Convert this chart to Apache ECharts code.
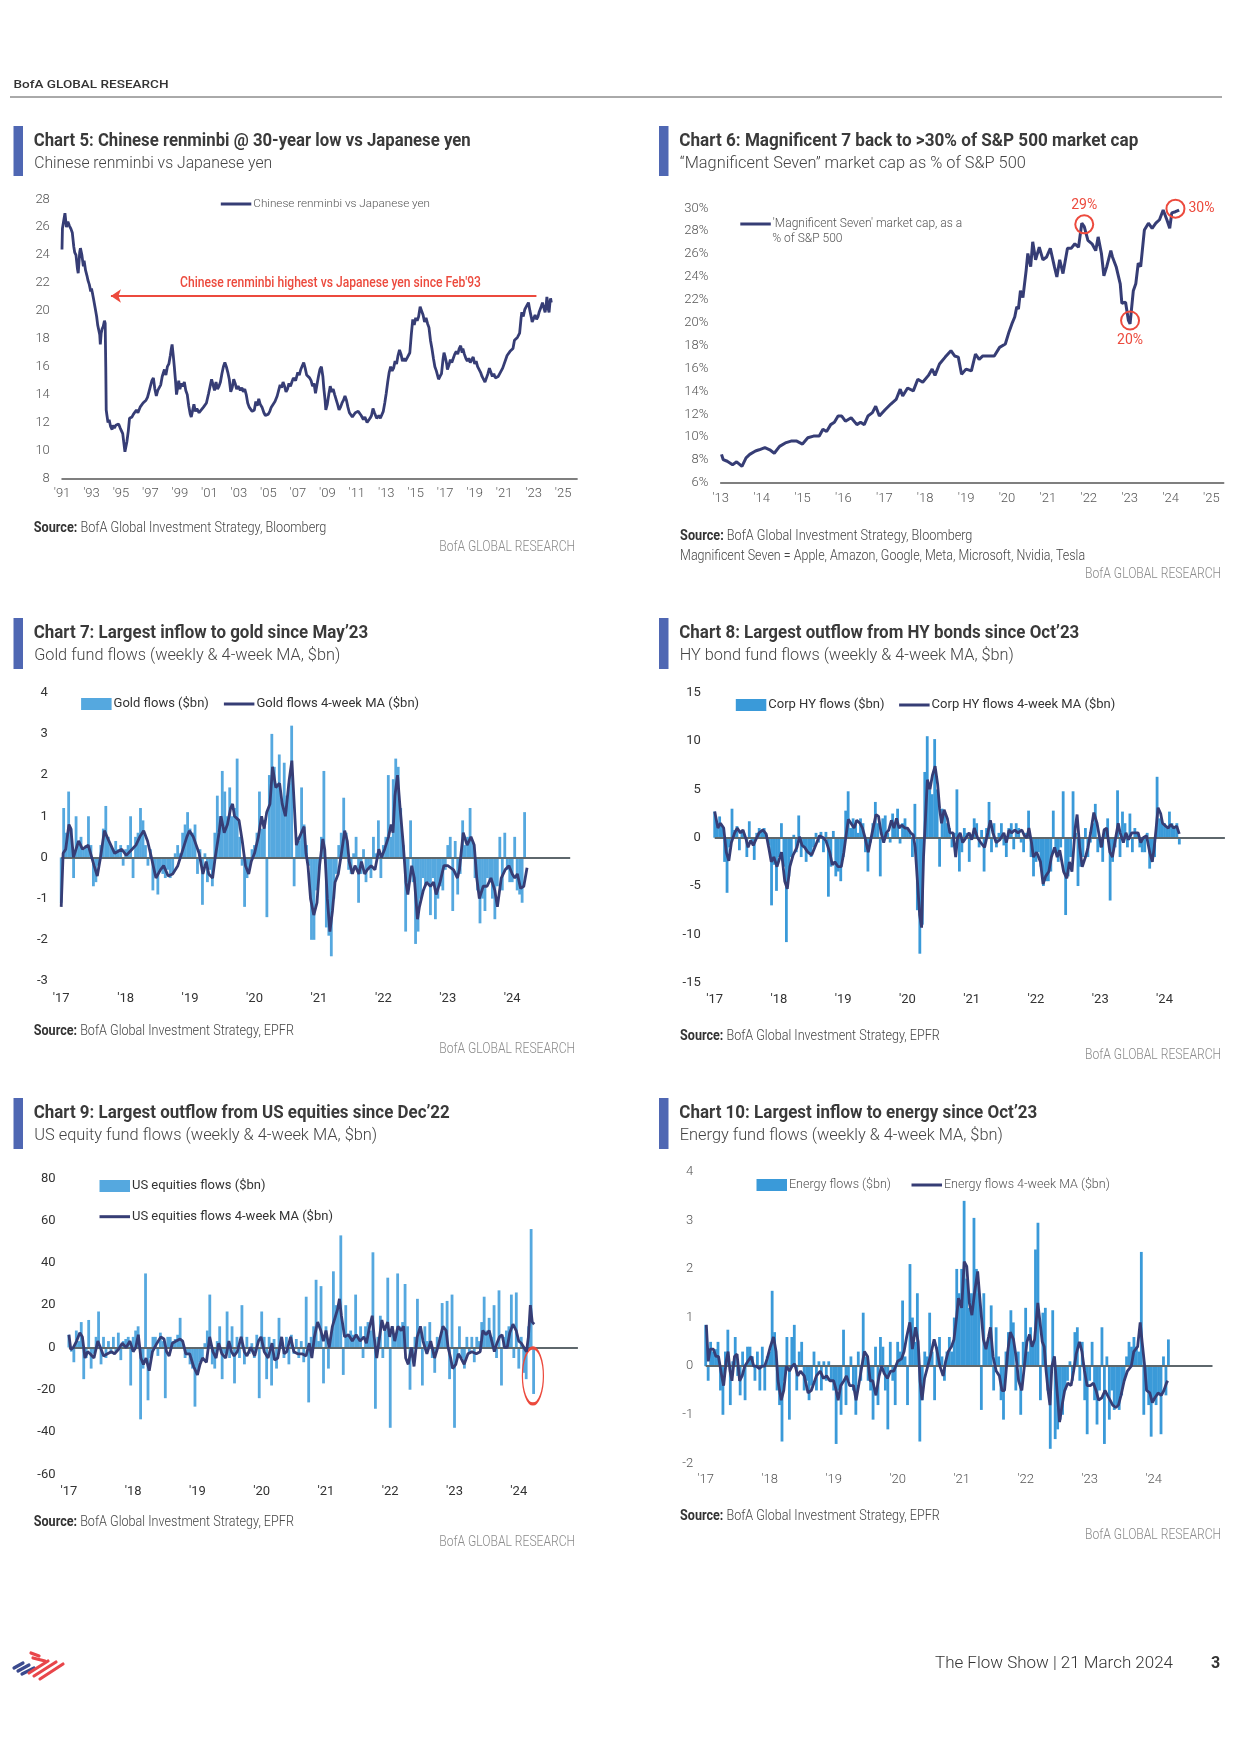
<!DOCTYPE html>
<html><head><meta charset="utf-8">
<script src="https://cdn.jsdelivr.net/npm/echarts@6/dist/echarts.min.js"></script>
<style>html,body{margin:0;padding:0;background:#fff}#c{width:1240px;height:1754px}</style>
</head><body><div id="c"></div>
<script>
// ---------------- DATA ----------------
// Chart 5: CNY vs JPY [decimal year, value]
const cnyJpy = [[1991.00,24.4],[1991.03,25.9],[1991.10,25.8],[1991.2,27.0],[1991.3,26.0],[1991.4,26.4],[1991.5,26.1],[1991.6,25.9],[1991.7,25.6],[1991.8,24.6],[1991.86,24.2],[1991.95,24.0],[1992.05,23.0],[1992.1,22.7],[1992.2,24.2],[1992.25,24.5],[1992.35,24.0],[1992.45,23.2],[1992.5,23.6],[1992.6,22.9],[1992.7,22.5],[1992.76,22.2],[1992.85,21.9],[1992.95,21.4],[1993.0,21.6],[1993.08,21.2],[1993.15,20.8],[1993.25,20.2],[1993.35,19.6],[1993.42,19.0],[1993.5,18.6],[1993.56,18.3],[1993.6,17.6],[1993.66,18.4],[1993.72,18.7],[1993.8,18.9],[1993.88,19.3],[1993.93,19.1],[1993.97,16.0],[1994.0,12.9],[1994.05,12.5],[1994.12,12.0],[1994.2,12.2],[1994.3,11.7],[1994.4,11.5],[1994.45,11.8],[1994.55,11.6],[1994.65,11.8],[1994.75,11.7],[1994.84,11.9],[1994.95,11.6],[1995.05,11.7],[1995.12,11.2],[1995.2,10.5],[1995.27,9.9],[1995.32,10.0],[1995.4,10.6],[1995.5,11.4],[1995.58,12.3],[1995.65,12.2],[1995.75,12.4],[1995.85,12.6],[1995.95,12.6],[1996.05,12.9],[1996.15,12.7],[1996.3,13.1],[1996.4,13.0],[1996.5,13.4],[1996.6,13.3],[1996.7,13.6],[1996.8,13.8],[1996.9,14.2],[1997.0,14.6],[1997.1,15.0],[1997.2,15.2],[1997.3,14.4],[1997.4,13.9],[1997.5,14.3],[1997.6,14.5],[1997.7,14.7],[1997.8,15.3],[1997.95,15.8],[1998.05,15.4],[1998.15,16.0],[1998.25,16.2],[1998.35,16.8],[1998.42,17.3],[1998.47,17.6],[1998.55,16.8],[1998.62,16.0],[1998.7,15.0],[1998.77,14.0],[1998.85,14.5],[1998.92,15.0],[1999.0,14.4],[1999.1,14.8],[1999.2,14.6],[1999.3,14.9],[1999.4,14.3],[1999.5,14.0],[1999.6,13.2],[1999.7,12.6],[1999.77,12.4],[1999.85,12.8],[1999.95,13.3],[2000.05,12.8],[2000.15,13.0],[2000.3,12.7],[2000.45,12.9],[2000.6,13.1],[2000.7,13.2],[2000.8,13.4],[2000.95,14.1],[2001.05,14.6],[2001.15,15.1],[2001.25,14.7],[2001.35,14.3],[2001.45,14.9],[2001.55,14.4],[2001.65,14.6],[2001.75,14.9],[2001.85,15.5],[2001.95,16.0],[2002.05,16.3],[2002.15,16.0],[2002.25,15.6],[2002.35,15.1],[2002.45,14.2],[2002.55,14.5],[2002.65,15.1],[2002.75,14.8],[2002.85,14.4],[2002.95,14.6],[2003.1,14.3],[2003.2,14.5],[2003.3,14.2],[2003.4,14.4],[2003.5,14.0],[2003.6,13.4],[2003.7,13.1],[2003.8,13.0],[2003.9,12.8],[2004.05,12.9],[2004.15,13.5],[2004.25,13.2],[2004.35,13.7],[2004.45,13.3],[2004.57,13.1],[2004.7,12.7],[2004.8,12.5],[2004.9,12.4],[2005.0,12.6],[2005.1,12.8],[2005.2,13.1],[2005.3,13.0],[2005.45,13.5],[2005.6,13.9],[2005.7,14.3],[2005.8,14.7],[2005.9,14.5],[2006.0,14.9],[2006.1,14.6],[2006.2,14.2],[2006.3,14.4],[2006.4,14.8],[2006.5,14.6],[2006.6,14.9],[2006.7,15.2],[2006.85,15.0],[2007.0,15.6],[2007.1,15.4],[2007.2,15.8],[2007.3,15.9],[2007.4,16.3],[2007.5,15.9],[2007.6,15.4],[2007.7,15.5],[2007.8,15.2],[2007.9,15.0],[2008.0,14.6],[2008.1,14.8],[2008.2,14.1],[2008.3,14.7],[2008.4,15.3],[2008.5,15.8],[2008.6,16.0],[2008.7,15.3],[2008.77,14.4],[2008.85,13.6],[2008.9,12.9],[2009.0,13.3],[2009.1,14.0],[2009.2,14.6],[2009.3,14.2],[2009.4,14.4],[2009.5,14.0],[2009.6,13.9],[2009.7,13.3],[2009.8,12.9],[2009.9,13.1],[2010.0,13.4],[2010.1,13.6],[2010.2,13.9],[2010.3,13.6],[2010.4,13.1],[2010.5,12.7],[2010.6,12.8],[2010.7,12.4],[2010.8,12.5],[2010.9,12.7],[2011.0,12.6],[2011.1,12.8],[2011.2,12.9],[2011.3,12.5],[2011.45,12.2],[2011.55,12.4],[2011.7,12.0],[2011.8,12.1],[2011.9,12.3],[2012.0,12.5],[2012.1,13.0],[2012.2,12.7],[2012.35,12.3],[2012.5,12.5],[2012.6,12.3],[2012.7,12.4],[2012.8,12.8],[2012.9,13.4],[2013.0,14.1],[2013.1,14.9],[2013.2,15.6],[2013.3,16.0],[2013.4,15.7],[2013.5,15.9],[2013.6,16.4],[2013.7,16.2],[2013.8,16.8],[2013.9,17.2],[2014.0,16.9],[2014.1,16.4],[2014.2,16.6],[2014.3,16.4],[2014.4,16.6],[2014.5,16.5],[2014.6,17.0],[2014.7,18.3],[2014.8,19.4],[2014.9,19.0],[2015.0,19.5],[2015.1,19.3],[2015.2,19.6],[2015.3,20.3],[2015.4,20.0],[2015.5,19.7],[2015.6,19.2],[2015.7,19.5],[2015.8,19.1],[2015.9,18.8],[2016.0,17.9],[2016.1,17.3],[2016.2,16.6],[2016.3,16.0],[2016.4,15.7],[2016.5,15.3],[2016.55,15.1],[2016.65,15.3],[2016.75,15.5],[2016.85,16.5],[2016.92,17.0],[2017.0,16.7],[2017.1,16.2],[2017.15,15.8],[2017.25,16.1],[2017.35,16.5],[2017.45,16.3],[2017.55,16.6],[2017.65,16.9],[2017.75,17.1],[2017.85,16.9],[2017.95,17.3],[2018.05,17.5],[2018.15,17.0],[2018.2,17.3],[2018.3,16.9],[2018.4,16.6],[2018.5,16.4],[2018.6,16.6],[2018.7,16.3],[2018.8,16.5],[2018.9,16.7],[2019.0,16.2],[2019.1,16.4],[2019.2,16.0],[2019.3,16.1],[2019.4,15.6],[2019.5,15.3],[2019.6,15.2],[2019.7,14.9],[2019.8,15.2],[2019.9,15.5],[2020.0,15.9],[2020.1,15.6],[2020.2,15.3],[2020.3,15.5],[2020.4,15.2],[2020.5,15.1],[2020.6,15.3],[2020.7,15.5],[2020.8,15.6],[2020.9,15.9],[2021.0,16.0],[2021.1,16.5],[2021.2,16.8],[2021.3,16.9],[2021.4,17.1],[2021.5,17.0],[2021.6,17.3],[2021.7,17.9],[2021.8,18.0],[2021.9,18.1],[2021.95,18.2],[2022.05,18.4],[2022.15,19.5],[2022.2,19.9],[2022.3,19.6],[2022.4,20.1],[2022.5,20.3],[2022.6,20.4],[2022.65,20.6],[2022.75,20.0],[2022.85,19.5],[2022.9,19.2],[2023.0,19.3],[2023.1,19.7],[2023.2,19.4],[2023.3,19.6],[2023.37,19.9],[2023.45,20.0],[2023.55,20.4],[2023.6,20.6],[2023.7,20.2],[2023.78,19.9],[2023.85,20.4],[2023.9,21.0],[2023.95,20.6],[2024.0,20.1],[2024.05,19.9],[2024.1,20.5],[2024.15,20.9],[2024.2,20.6]];
const cnyArrow = [[2023.19,21.07],[1994.32,21.07]];

// Chart 6: Magnificent 7 share of S&P 500 (%)
const mag7Share = [[2013.02,8.5],[2013.06,8.05],[2013.16,7.9],[2013.29,7.6],[2013.39,7.85],[2013.52,7.46],[2013.62,8.2],[2013.71,8.5],[2013.85,8.8],[2013.94,8.9],[2014.08,9.1],[2014.20,8.9],[2014.31,8.6],[2014.44,9.2],[2014.58,9.5],[2014.72,9.66],[2014.86,9.66],[2015.00,9.4],[2015.13,9.95],[2015.27,10.1],[2015.41,10.1],[2015.50,10.7],[2015.59,10.5],[2015.69,11.1],[2015.78,11.3],[2015.87,11.85],[2015.96,11.85],[2016.05,11.4],[2016.19,11.7],[2016.33,11.1],[2016.42,11.3],[2016.51,11.1],[2016.60,11.85],[2016.71,12.15],[2016.79,12.7],[2016.88,11.85],[2017.02,12.4],[2017.16,12.9],[2017.29,13.3],[2017.39,14.2],[2017.45,13.6],[2017.57,14.3],[2017.71,14.05],[2017.82,15.07],[2017.94,14.8],[2018.08,15.4],[2018.17,15.95],[2018.24,15.4],[2018.35,16.4],[2018.49,17.0],[2018.63,17.56],[2018.72,17.1],[2018.81,17.0],[2018.89,15.5],[2019.00,15.95],[2019.13,15.8],[2019.23,17.27],[2019.32,16.8],[2019.41,17.1],[2019.55,17.1],[2019.69,17.1],[2019.82,17.85],[2019.96,18.14],[2020.05,19.2],[2020.12,19.9],[2020.19,20.5],[2020.24,21.4],[2020.28,21.2],[2020.33,22.8],[2020.39,22.2],[2020.47,24.6],[2020.51,26.05],[2020.58,24.9],[2020.63,27.07],[2020.70,25.5],[2020.79,26.6],[2020.88,25.5],[2020.97,25.75],[2021.06,26.5],[2021.16,24.9],[2021.22,24.0],[2021.29,25.5],[2021.37,24.3],[2021.48,26.5],[2021.57,26.5],[2021.66,26.9],[2021.75,26.6],[2021.83,28.7],[2021.89,28.4],[2021.98,27.2],[2022.08,26.9],[2022.17,26.3],[2022.23,27.5],[2022.31,26.05],[2022.37,24.1],[2022.44,24.9],[2022.54,26.3],[2022.58,25.75],[2022.67,24.9],[2022.77,23.4],[2022.81,21.7],[2022.90,21.8],[2022.97,20.2],[2023.01,19.9],[2023.09,22.8],[2023.15,23.4],[2023.21,25.2],[2023.27,24.9],[2023.36,28.1],[2023.46,28.7],[2023.55,28.25],[2023.64,28.7],[2023.73,29.0],[2023.82,29.85],[2023.91,29.0],[2023.98,28.25],[2024.03,29.6],[2024.12,29.7],[2024.21,29.85]];
const mag7Marks = [[2021.89,28.6,'29%'],[2023.01,20.2,'20%'],[2024.12,29.97,'30%']];

// Flow charts: fortnightly samples from Jan 2017 ($bn)
const flowStart = 2017, flowStep = 1/26;
const goldFlows = [
-1.1,1.2,0.6,1.6,0.7,-0.5,1.0,0.4,0.5,0.2,0.3,1.0,0.3,-0.7,-0.6,-0.2,0.3,0.7,1.25,0.5,0.3,0.2,0.4,0.2,0.3,-0.2,
0.2,0.3,1.0,-0.5,0.5,0.6,1.2,0.9,0.3,-0.2,0.2,-0.8,-0.4,-0.9,-0.3,-0.4,-0.5,-0.3,-0.5,-0.4,0.1,0.3,0.1,0.6,0.8,1.1,
0.7,0.6,0.8,-0.4,0.2,-1.15,0.1,-0.6,-0.3,-0.7,0.6,1.5,1.0,2.1,1.6,1.0,1.7,1.0,1.2,2.4,0.5,-0.2,-1.2,-0.5,-0.3,0.2,
0.3,0.6,1.6,0.7,0.9,-1.45,2.0,3.0,2.2,1.8,2.5,1.4,2.3,1.5,1.8,3.2,-0.7,0.5,0.4,1.7,0.8,0.3,-0.2,-2.0,-2.0,-0.8,
-0.3,0.5,2.1,-1.7,-1.9,-2.4,-1.0,-0.4,0.3,0.6,1.45,0.6,-0.3,-0.4,0.1,0.5,-1.1,-0.4,0.2,-0.6,-0.3,-0.5,0.5,0.1,0.9,-0.5,
0.3,0.5,2.0,0.5,1.9,2.4,2.2,1.2,0.3,-1.8,-0.8,0.9,-0.6,-2.1,-1.8,-1.0,-0.5,-0.7,-0.6,-1.4,-0.5,-1.5,-1.0,-0.7,-0.8,-0.3,
0.3,0.5,-1.3,0.4,-0.9,-0.4,0.9,0.3,0.5,1.2,0.4,-0.5,-0.8,-1.6,-1.0,-1.3,-0.5,-0.6,-1.0,-1.5,-0.7,0.5,-0.8,0.6,-0.3,-0.6,
-0.6,0.5,-0.8,-0.9,-1.1,1.1];
const goldMA = [[2017.00,-1.2],[2017.03,0.1],[2017.07,0.2],[2017.12,0.8],[2017.15,0.7],[2017.19,0.0],[2017.27,0.4],[2017.33,0.2],[2017.42,0.3],[2017.51,-0.2],[2017.56,-0.45],[2017.61,0.0],[2017.67,0.65],[2017.74,0.4],[2017.83,0.1],[2017.94,0.2],[2018.01,0.05],[2018.10,0.2],[2018.16,0.3],[2018.22,0.5],[2018.28,0.65],[2018.34,0.4],[2018.40,0.0],[2018.47,-0.5],[2018.54,-0.3],[2018.59,-0.2],[2018.66,-0.45],[2018.73,-0.4],[2018.81,-0.2],[2018.87,0.1],[2018.95,0.5],[2018.99,0.65],[2019.05,0.5],[2019.14,0.1],[2019.20,-0.4],[2019.25,-0.1],[2019.29,-0.4],[2019.35,-0.5],[2019.39,0.0],[2019.45,0.6],[2019.48,1.0],[2019.53,0.6],[2019.58,0.8],[2019.63,1.2],[2019.66,1.3],[2019.69,1.0],[2019.76,0.9],[2019.81,0.4],[2019.86,-0.2],[2019.91,-0.4],[2019.95,-0.1],[2020.00,0.1],[2020.06,0.5],[2020.11,1.0],[2020.15,0.7],[2020.19,1.1],[2020.24,1.3],[2020.28,2.2],[2020.33,1.7],[2020.39,1.8],[2020.43,1.3],[2020.48,1.0],[2020.54,1.9],[2020.58,2.35],[2020.62,1.2],[2020.65,0.3],[2020.70,0.5],[2020.77,0.75],[2020.80,0.1],[2020.83,-0.2],[2020.87,-1.0],[2020.92,-1.4],[2020.97,-1.1],[2021.01,-0.2],[2021.06,0.45],[2021.09,0.2],[2021.13,-1.0],[2021.17,-1.8],[2021.21,-1.3],[2021.25,-0.6],[2021.30,-0.4],[2021.34,0.0],[2021.40,0.65],[2021.44,0.4],[2021.47,-0.1],[2021.52,-0.4],[2021.56,-0.2],[2021.62,-0.4],[2021.66,-0.1],[2021.71,-0.4],[2021.75,-0.3],[2021.81,-0.2],[2021.87,-0.3],[2021.93,0.2],[2021.97,0.0],[2022.02,0.2],[2022.08,0.5],[2022.12,0.8],[2022.15,0.6],[2022.18,1.5],[2022.22,2.0],[2022.26,1.2],[2022.31,0.3],[2022.35,-0.6],[2022.38,-0.9],[2022.44,-0.2],[2022.48,-0.5],[2022.53,-1.5],[2022.56,-1.2],[2022.62,-0.8],[2022.67,-0.6],[2022.73,-0.7],[2022.78,-0.6],[2022.82,-0.9],[2022.88,-0.6],[2022.94,-0.2],[2023.00,-0.2],[2023.09,-0.3],[2023.15,-0.5],[2023.18,-0.3],[2023.24,0.6],[2023.30,0.3],[2023.36,0.5],[2023.41,0.3],[2023.45,-0.5],[2023.49,-1.0],[2023.55,-0.7],[2023.61,-0.7],[2023.67,-0.5],[2023.73,-0.8],[2023.77,-1.2],[2023.83,-0.5],[2023.89,-0.3],[2023.95,-0.2],[2024.00,-0.4],[2024.04,-0.5],[2024.08,-0.4],[2024.13,-0.75],[2024.18,-0.7],[2024.23,-0.25]];

const hyFlows = [
2.7,1.5,2.2,1.2,-2.5,-5.7,-1.0,3.0,0.8,1.2,-1.3,0.8,0.4,-2.0,1.7,-0.5,-2.3,0.5,1.0,0.6,1.0,0.3,-0.8,-7.0,-2.8,-5.5,
-2.0,1.5,-3.0,-10.8,-4.0,-2.0,0.3,-1.5,2.3,-2.0,-1.0,-2.5,-1.5,-2.0,-1.0,0.5,-0.5,0.6,-1.5,0.6,-6.1,-3.0,0.7,-4.0,-3.5,-4.5,
-2.0,2.8,4.8,1.0,2.0,1.5,0.5,2.0,1.5,-1.5,-3.5,-0.5,1.5,3.7,1.5,-4.0,2.0,2.3,0.5,-0.5,2.5,1.5,3.0,-0.6,1.5,2.0,
1.0,0.5,-2.0,3.5,-7.5,-12.0,-9.0,6.8,10.5,5.0,4.5,10.2,5.0,-3.0,3.0,2.7,1.5,1.0,-1.0,0.5,5.0,-3.5,-1.5,1.0,0.5,-2.5,
0.3,2.0,1.5,-1.0,0.8,-3.5,1.0,3.7,-1.5,1.5,-1.0,0.5,1.5,-0.8,-2.0,1.0,1.5,-1.2,1.5,1.0,-0.5,-1.5,0.5,2.8,-2.0,-4.0,
-2.5,-1.5,-3.0,-5.0,-4.5,-4.5,-3.5,2.8,-1.5,-2.5,-1.0,4.8,-8.0,-4.0,-2.0,4.8,0.5,-5.0,-3.0,-2.0,1.0,-2.0,-0.5,1.5,3.5,-1.5,
-1.0,-2.5,1.0,2.0,-6.5,-2.5,-1.0,4.9,-2.0,2.7,1.5,-1.0,2.5,-1.5,1.0,0.5,-1.0,-1.5,-1.5,0.5,-3.2,-2.5,-2.0,6.3,2.0,1.5,
1.5,1.2,2.7,1.5,1.2,1.5,-0.7];
const hyMA = [[2017.00,2.7],[2017.05,1.0],[2017.09,1.5],[2017.14,1.0],[2017.18,-1.5],[2017.22,-2.4],[2017.26,-0.5],[2017.31,0.5],[2017.35,1.0],[2017.40,0.5],[2017.44,0.8],[2017.49,-0.2],[2017.52,-1.0],[2017.56,-0.3],[2017.60,-0.8],[2017.64,-0.2],[2017.69,0.5],[2017.75,0.8],[2017.80,0.4],[2017.84,-1.0],[2017.88,-2.5],[2017.92,-2.0],[2017.97,-3.0],[2018.04,-1.5],[2018.09,-4.5],[2018.13,-5.3],[2018.17,-3.0],[2018.22,-1.8],[2018.28,-1.0],[2018.32,0.1],[2018.36,-0.8],[2018.40,-1.0],[2018.45,-1.5],[2018.51,-1.8],[2018.57,-0.8],[2018.63,0.2],[2018.69,0.0],[2018.73,-0.3],[2018.79,-1.5],[2018.83,-2.8],[2018.87,-2.5],[2018.92,-3.0],[2018.97,-3.0],[2019.01,-1.5],[2019.05,0.5],[2019.08,1.9],[2019.12,1.5],[2019.17,1.0],[2019.21,1.8],[2019.26,1.5],[2019.30,1.0],[2019.34,0.0],[2019.39,-1.5],[2019.45,0.5],[2019.51,2.4],[2019.55,2.2],[2019.59,0.5],[2019.63,-0.5],[2019.67,0.5],[2019.71,0.8],[2019.75,1.8],[2019.79,1.0],[2019.83,2.0],[2019.87,1.0],[2019.91,1.3],[2019.96,1.0],[2020.00,1.0],[2020.05,0.5],[2020.09,0.3],[2020.12,-1.0],[2020.15,-4.0],[2020.19,-8.0],[2020.22,-9.3],[2020.25,-2.0],[2020.28,2.0],[2020.31,6.0],[2020.35,5.0],[2020.39,6.5],[2020.43,7.4],[2020.47,5.5],[2020.50,3.0],[2020.53,1.5],[2020.57,2.9],[2020.62,2.0],[2020.66,0.5],[2020.71,0.5],[2020.75,-2.0],[2020.78,0.0],[2020.82,0.5],[2020.86,-0.5],[2020.91,0.0],[2020.96,0.5],[2021.00,-0.2],[2021.04,1.0],[2021.09,0.0],[2021.14,-0.5],[2021.20,-1.0],[2021.25,0.5],[2021.29,1.8],[2021.33,0.5],[2021.38,-0.5],[2021.44,-0.2],[2021.50,0.5],[2021.54,-0.5],[2021.58,0.8],[2021.62,0.5],[2021.67,0.8],[2021.72,0.5],[2021.78,0.8],[2021.82,0.2],[2021.86,0.0],[2021.89,1.0],[2021.93,-0.5],[2021.96,-2.0],[2022.01,-1.5],[2022.07,-2.5],[2022.11,-4.8],[2022.15,-4.0],[2022.20,-3.5],[2022.24,-2.0],[2022.29,-1.0],[2022.33,-2.0],[2022.37,-1.3],[2022.43,-3.5],[2022.48,-4.2],[2022.52,-2.5],[2022.56,-3.5],[2022.61,1.0],[2022.64,2.4],[2022.68,-1.0],[2022.72,-3.0],[2022.77,-2.0],[2022.81,-1.0],[2022.85,0.5],[2022.90,2.6],[2022.95,1.5],[2022.99,0.0],[2023.02,-1.0],[2023.06,0.8],[2023.10,1.0],[2023.15,-1.5],[2023.19,-2.0],[2023.24,0.0],[2023.28,1.5],[2023.31,0.5],[2023.36,-0.5],[2023.40,0.5],[2023.44,-0.2],[2023.49,0.5],[2023.54,0.5],[2023.59,0.5],[2023.63,-0.5],[2023.67,0.0],[2023.72,0.2],[2023.77,-1.5],[2023.81,-2.5],[2023.84,-1.0],[2023.87,1.0],[2023.90,3.1],[2023.94,2.5],[2023.97,1.5],[2024.02,1.2],[2024.06,1.0],[2024.10,1.4],[2024.14,1.0],[2024.19,1.2],[2024.23,0.4]];

const usEqFlows = [
6,-2,-7,8,3,12,-15,-5,13,-10,-3,5,17,-8,5,-5,3,-3,5,-2,7,-6,3,4,5,-18,
5,8,10,-34,-10,35,-25,-5,5,5,-4,7,3,-24,5,5,3,4,6,14,3,-5,-3,-8,-10,-28,
-13,-7,-5,2,8,25,-8,-10,3,10,-15,-3,17,-5,10,-17,5,-5,20,-8,5,-3,2,-5,6,-24,
17,5,-15,5,-18,4,-10,14,3,-5,5,-8,6,-3,4,-5,3,-7,24,-26,5,10,32,3,29,-17,
10,-10,5,36,20,18,53,-13,20,5,8,6,25,5,10,-5,10,12,8,45,-29,5,15,-5,8,33,
-38,10,5,35,10,12,30,10,-20,-5,5,23,8,-18,10,3,12,-5,-12,5,3,21,8,22,-15,25,
-38,-5,10,-5,-10,5,-3,5,-7,5,3,12,24,8,14,5,20,-5,27,-18,5,8,10,25,-5,26,
-10,5,-12,-15,10,56,-22];
const usEqMA = [[2017.00,6],[2017.03,-1],[2017.07,0],[2017.12,3],[2017.17,7],[2017.21,5],[2017.25,-5],[2017.29,-2],[2017.33,-3],[2017.39,-5],[2017.45,3],[2017.49,0],[2017.54,-4],[2017.60,-3],[2017.66,-2],[2017.71,-3],[2017.77,-1],[2017.83,2],[2017.89,0],[2017.95,3],[2018.00,-2],[2018.04,0],[2018.08,6],[2018.12,-5],[2018.16,-8],[2018.20,-5],[2018.25,-11],[2018.30,-2],[2018.37,2],[2018.43,5],[2018.48,4],[2018.52,-2],[2018.56,-4],[2018.61,2],[2018.67,3],[2018.73,4],[2018.77,3],[2018.82,-3],[2018.88,-3],[2018.94,-9],[2019.00,-13],[2019.04,-8],[2019.08,-5],[2019.14,-7],[2019.19,5],[2019.24,-2],[2019.29,-5],[2019.33,2],[2019.38,-3],[2019.44,-5],[2019.49,3],[2019.53,-2],[2019.57,-4],[2019.62,-2],[2019.68,5],[2019.73,-2],[2019.77,-4],[2019.83,0],[2019.89,-4],[2019.95,3],[2019.99,5],[2020.04,-2],[2020.10,-5],[2020.16,2],[2020.20,-6],[2020.25,-5],[2020.31,5],[2020.35,-3],[2020.39,-2],[2020.45,5],[2020.50,-2],[2020.56,-3],[2020.63,-3],[2020.69,-4],[2020.74,2],[2020.78,-5],[2020.82,5],[2020.87,12],[2020.92,8],[2020.96,3],[2021.00,8],[2021.05,0],[2021.10,10],[2021.15,15],[2021.18,18],[2021.21,23],[2021.24,15],[2021.29,5],[2021.35,6],[2021.41,3],[2021.47,6],[2021.53,3],[2021.59,5],[2021.63,2],[2021.68,10],[2021.72,15],[2021.75,5],[2021.79,-5],[2021.82,2],[2021.87,13],[2021.91,8],[2021.96,12],[2021.99,5],[2022.03,10],[2022.07,3],[2022.12,10],[2022.17,8],[2022.21,10],[2022.24,-5],[2022.28,-8],[2022.33,0],[2022.37,-9],[2022.42,5],[2022.47,10],[2022.51,3],[2022.57,-3],[2022.63,3],[2022.69,-5],[2022.74,0],[2022.78,5],[2022.82,10],[2022.87,8],[2022.90,0],[2022.94,-5],[2022.97,-10],[2023.02,-8],[2023.06,-3],[2023.10,-5],[2023.15,-8],[2023.21,-3],[2023.27,-2],[2023.34,-3],[2023.40,-2],[2023.44,8],[2023.49,6],[2023.54,8],[2023.58,3],[2023.62,-2],[2023.66,2],[2023.70,5],[2023.74,6],[2023.78,0],[2023.82,0],[2023.86,7],[2023.91,11],[2023.96,8],[2024.00,3],[2024.04,2],[2024.08,0],[2024.12,-2],[2024.15,5],[2024.18,20],[2024.21,12],[2024.24,11]];
const usEqOutflowMark = [2024.22,-13.5];

const energyFlows = [
0.85,-0.3,0.5,0.3,0.35,0.5,-0.5,-1.0,0.3,0.75,-0.8,0.1,0.6,-0.2,-0.6,0.3,-0.7,0.4,0.4,0.2,-0.3,0.3,-0.5,0.4,-0.5,0.2,
0.3,1.55,0.7,-0.5,-0.8,-1.55,-0.3,0.6,-1.1,0.6,0.85,-0.5,0.3,0.5,-0.5,-0.3,-0.7,-0.4,0.3,-0.5,0.1,-0.5,0.1,-0.3,0.1,-0.3,
-0.5,-1.6,-0.5,-1.0,0.75,-0.8,-0.3,0.2,-0.5,-1.0,0.3,-0.3,1.1,0.2,-0.3,-0.5,-1.1,0.4,-0.8,0.6,0.4,-0.5,-1.3,0.5,-0.3,-0.8,
0.5,0.3,1.35,0.2,-0.8,2.1,1.0,0.5,1.5,-1.55,-0.7,0.3,0.2,1.1,0.3,-0.7,0.4,0.6,0.2,-0.3,0.3,0.6,0.3,1.0,2.0,1.5,
2.0,3.4,1.8,1.2,1.5,3.05,2.0,1.5,-0.9,1.5,0.5,0.6,1.25,-0.5,0.8,0.2,-0.7,-1.1,0.3,0.7,1.15,0.9,-0.5,0.3,-1.0,0.5,
1.2,0.3,0.8,0.5,2.4,2.95,-0.7,1.1,1.2,-0.5,-1.7,1.15,-1.5,-1.3,-1.1,-1.0,-0.5,-0.3,0.1,-0.3,0.7,0.8,-0.3,0.5,-0.7,-1.4,
-0.3,0.5,-0.7,-1.2,-0.5,0.8,-1.6,0.2,-1.1,-0.5,-0.9,-0.8,-0.9,-0.6,-0.3,0.2,0.5,0.4,0.6,0.4,0.3,2.35,-1.0,-0.5,-0.8,-1.45,
-0.7,-0.8,-0.6,-1.4,0.2,-0.6,0.55];
const energyMA = [[2017.01,0.85],[2017.04,0.1],[2017.07,0.35],[2017.12,0.35],[2017.16,0.2],[2017.20,0.2],[2017.25,-0.2],[2017.28,-0.4],[2017.32,0.1],[2017.35,0.3],[2017.38,-0.1],[2017.41,-0.3],[2017.45,0.2],[2017.49,0.25],[2017.53,-0.3],[2017.57,-0.2],[2017.61,0.0],[2017.66,0.1],[2017.71,0.2],[2017.75,0.0],[2017.79,0.0],[2017.84,-0.05],[2017.88,0.0],[2017.92,0.0],[2017.96,0.15],[2018.01,0.4],[2018.06,0.6],[2018.10,0.3],[2018.13,-0.3],[2018.18,-0.7],[2018.22,-0.5],[2018.26,0.0],[2018.31,-0.1],[2018.35,0.0],[2018.39,0.05],[2018.44,-0.2],[2018.48,-0.1],[2018.54,-0.2],[2018.60,-0.55],[2018.65,-0.5],[2018.69,-0.35],[2018.73,-0.2],[2018.79,-0.1],[2018.84,-0.25],[2018.89,-0.2],[2018.94,-0.3],[2019.00,-0.3],[2019.04,-0.5],[2019.07,-0.7],[2019.11,-0.4],[2019.16,-0.3],[2019.20,-0.2],[2019.25,-0.4],[2019.31,-0.4],[2019.35,-0.7],[2019.39,-0.4],[2019.44,0.0],[2019.48,0.3],[2019.53,0.2],[2019.57,-0.3],[2019.61,-0.3],[2019.66,-0.6],[2019.71,-0.2],[2019.75,0.0],[2019.79,-0.15],[2019.84,-0.25],[2019.89,-0.1],[2019.94,-0.1],[2020.00,0.1],[2020.06,0.15],[2020.10,0.3],[2020.14,0.6],[2020.19,0.9],[2020.23,0.35],[2020.28,0.8],[2020.32,0.5],[2020.35,-0.3],[2020.38,-0.7],[2020.42,-0.25],[2020.47,0.0],[2020.51,0.2],[2020.57,0.55],[2020.61,0.35],[2020.66,0.0],[2020.71,-0.2],[2020.75,0.1],[2020.79,0.3],[2020.84,0.4],[2020.88,0.55],[2020.92,1.0],[2020.95,1.4],[2021.00,1.2],[2021.04,2.15],[2021.08,2.05],[2021.12,1.3],[2021.16,1.05],[2021.20,1.5],[2021.25,1.95],[2021.29,1.3],[2021.34,0.55],[2021.38,0.35],[2021.42,0.6],[2021.45,0.8],[2021.49,0.2],[2021.54,-0.1],[2021.59,-0.2],[2021.63,-0.5],[2021.67,-0.5],[2021.72,0.3],[2021.76,0.7],[2021.81,0.55],[2021.85,0.2],[2021.89,-0.3],[2021.94,-0.5],[2021.98,0.0],[2022.02,0.5],[2022.06,0.65],[2022.10,0.4],[2022.14,0.55],[2022.19,1.3],[2022.22,1.3],[2022.26,0.5],[2022.29,0.4],[2022.32,-0.1],[2022.35,-0.5],[2022.38,-0.8],[2022.41,0.0],[2022.45,0.2],[2022.49,-0.5],[2022.53,-1.15],[2022.57,-0.8],[2022.61,-0.5],[2022.66,-0.35],[2022.71,-0.4],[2022.75,-0.1],[2022.79,0.25],[2022.84,0.5],[2022.88,0.3],[2022.92,-0.1],[2022.96,-0.4],[2023.01,-0.4],[2023.06,-0.35],[2023.10,-0.5],[2023.14,-0.7],[2023.19,-0.65],[2023.24,-0.5],[2023.28,-0.6],[2023.32,-0.7],[2023.36,-0.8],[2023.41,-0.85],[2023.45,-0.8],[2023.49,-0.6],[2023.54,-0.3],[2023.59,-0.1],[2023.65,0.0],[2023.69,0.3],[2023.75,0.4],[2023.79,0.9],[2023.82,0.5],[2023.86,0.0],[2023.89,-0.5],[2023.94,-0.55],[2023.98,-0.75],[2024.02,-0.65],[2024.07,-0.55],[2024.12,-0.6],[2024.16,-0.5],[2024.20,-0.35],[2024.22,-0.3]];

// ---------------- STYLE ----------------
const NAVY='#363D75', BAR_A='#55A8DF', BAR_B='#3A9AD9', RED='#EC4A3D', TBAR='#4F67B3', ZERO='#5E676C';
const SANS="Roboto,'Open Sans','Noto Sans',sans-serif";

const mctx=document.createElement('canvas').getContext('2d');
function measure(s,size,weight,fam){mctx.font=weight+' '+size+'px '+fam;return mctx.measureText(s).width;}
const G=[];
function txt(x,y,s,o){
  o=Object.assign({size:14,weight:'normal',color:'#333',fam:SANS,align:'left'},o);
  const m=measure(s,o.size,o.weight,o.fam); const sx=o.w?o.w/m:1;
  G.push({type:'text',x:x,y:y,scaleX:sx,silent:true,z:10,style:{text:s,x:0,y:0,fill:o.color,font:o.weight+' '+o.size+'px '+o.fam,
    align:o.align,verticalAlign:'middle',textAlign:o.align,textVerticalAlign:'middle'}});
  return m*sx;
}
function src(x,y,rest,w){
  const size=14.5; const bw=measure('Source:',size,'bold',SANS); const rw=measure(' '+rest,size,'300',SANS);
  const sx=w/(bw+rw);
  txt(x,y,'Source:',{size:size,weight:'bold',color:'#333',w:bw*sx});
  txt(x+bw*sx,y,' '+rest,{size:size,weight:'300',color:'#444',w:rw*sx});
}
function bofa(xr,y){txt(xr,y,'BofA GLOBAL RESEARCH',{size:15,weight:'300',color:'#8a8a8a',w:136,align:'right'});}
function tbar(x,y1,y2){G.push({type:'rect',shape:{x:x,y:y1,width:9.5,height:y2-y1},style:{fill:TBAR},silent:true});}
function head(x,y,title,tw,sub,sw){
  txt(x,y,title,{size:18.5,weight:'bold',color:'#3a3a3a',w:tw});
  txt(x+0.5,y+23,sub,{size:16.5,weight:'300',color:'#444',w:sw});
}

// Page header / footer
txt(13.5,85,'BofA GLOBAL RESEARCH',{size:11.5,weight:'500',color:'#333',w:155});
G.push({type:'line',shape:{x1:10,y1:97,x2:1222,y2:97},style:{stroke:'#555',lineWidth:1},silent:true});
txt(935,1664,'The Flow Show | 21 March 2024',{size:16,weight:'300',color:'#333',w:238});
txt(1211,1664,'3',{size:16,weight:'bold',color:'#333'});
[[[14,1668],[23,1663]],[[18,1671],[29,1665]],[[22,1674],[34,1668]]].forEach(p=>G.push({type:'line',shape:{x1:p[0][0],y1:p[0][1],x2:p[1][0],y2:p[1][1]},style:{stroke:'#3B4A8E',lineWidth:3.2,lineCap:'round'},silent:true}));
[[[31,1653],[39,1656]],[[33,1658],[45,1661]],[[29,1673],[48,1661]],[[34,1676],[56,1662]],[[40,1679],[63,1664]]].forEach(p=>G.push({type:'line',shape:{x1:p[0][0],y1:p[0][1],x2:p[1][0],y2:p[1][1]},style:{stroke:'#E8464A',lineWidth:3.2,lineCap:'round'},silent:true}));

// Chart headers
tbar(13.5,126,176); head(33.7,141,'Chart 5: Chinese renminbi @ 30-year low vs Japanese yen',437,'Chinese renminbi vs Japanese yen',238);
tbar(659,126,176); head(679.3,141,'Chart 6: Magnificent 7 back to >30% of S&P 500 market cap',459,'\u201cMagnificent Seven\u201d market cap as % of S&P 500',346);
tbar(13.5,618,669); head(33.7,633,'Chart 7: Largest inflow to gold since May\u201923',334.5,'Gold fund flows (weekly & 4-week MA, $bn)',306);
tbar(659,618,669); head(679.3,633,'Chart 8: Largest outflow from HY bonds since Oct\u201923',400,'HY bond fund flows (weekly & 4-week MA, $bn)',334);
tbar(13.5,1098,1149); head(33.7,1113,'Chart 9: Largest outflow from US equities since Dec\u201922',416,'US equity fund flows (weekly & 4-week MA, $bn)',343);
tbar(659,1098,1149); head(679.3,1113,'Chart 10: Largest inflow to energy since Oct\u201923',358,'Energy fund flows (weekly & 4-week MA, $bn)',323);

// Sources
src(33.7,528,'BofA Global Investment Strategy, Bloomberg',292.7); bofa(575.2,547);
src(680.1,536,'BofA Global Investment Strategy, Bloomberg',292.3);
txt(680.1,556,'Magnificent Seven = Apple, Amazon, Google, Meta, Microsoft, Nvidia, Tesla',{size:14.5,weight:'300',color:'#444',w:405});
bofa(1221.1,574);
src(33.7,1031,'BofA Global Investment Strategy, EPFR',260.2); bofa(575.2,1049);
src(680.1,1036,'BofA Global Investment Strategy, EPFR',259.6); bofa(1221.1,1055);
src(33.7,1522,'BofA Global Investment Strategy, EPFR',260.2); bofa(575.2,1542);
src(680.1,1516,'BofA Global Investment Strategy, EPFR',259.6); bofa(1221.1,1535);

// Chart annotations (text)
txt(330.5,283,"Chinese renminbi highest vs Japanese yen since Feb'93",{size:14,weight:'500',color:RED,w:301,align:'center'});
txt(772.3,239,'% of S&P 500',{size:12,weight:'300',color:'#555'});

// ---------------- AXES ----------------
const yr2 = v => "'" + String(Math.round(v)).slice(2);
const isInt = v => Math.abs(v-Math.round(v))<1e-6;
function xAx(gi,min,max,opt){
  return Object.assign({type:'value',gridIndex:gi,min:min,max:max,interval:1,
    axisLine:{show:false},axisTick:{show:false},splitLine:{show:false},
    axisLabel:{margin:11,fontSize:13,color:'#333',fontFamily:SANS,formatter:v=>isInt(v)?yr2(v):''}},opt||{});
}
function yAx(gi,min,max,iv,mg,opt){
  return Object.assign({type:'value',gridIndex:gi,min:min,max:max,interval:iv,
    axisLine:{show:false},axisTick:{show:false},splitLine:{show:false},
    axisLabel:{margin:mg,fontSize:13,color:'#333',fontFamily:SANS}},opt||{});
}
const grids=[
  {left:62,top:199.3,width:515.1,height:279},
  {left:720.7,top:208.3,width:503,height:274.7},
  {left:61.2,top:692.7,width:509,height:288.3},
  {left:714.7,top:692.7,width:510.2,height:290},
  {left:68.9,top:1178.3,width:509,height:296},
  {left:705.7,top:1171.7,width:506.8,height:291.7}
];
const lightLbl={fontSize:13,color:'#555',fontFamily:SANS,fontWeight:300};
const xAxes=[
  xAx(0,1991,2025.95,{axisLine:{show:true,lineStyle:{color:'#555',width:1.5}},axisLabel:Object.assign({margin:9,formatter:v=>(isInt(v)&&Math.round(v)%2===1)?yr2(v):''},lightLbl)}),
  xAx(1,2013,2025.3,{axisLine:{show:true,lineStyle:{color:'#555',width:1.5}},axisLabel:Object.assign({margin:9,formatter:v=>isInt(v)?yr2(v):''},lightLbl)}),
  xAx(2,2017,2024.9), xAx(3,2017,2024.94), xAx(4,2017,2024.92), xAx(5,2017,2024.92,{axisLabel:Object.assign({margin:10,formatter:v=>isInt(v)?yr2(v):''},lightLbl)})
];
const yAxes=[
  yAx(0,8,28,2,12.2,{axisLabel:Object.assign({margin:12.2},lightLbl)}),
  yAx(1,6,30,2,12.4,{axisLabel:Object.assign({margin:12.4,formatter:'{value}%'},lightLbl)}),
  yAx(2,-3,4,1,13.4), yAx(3,-15,15,5,13.9), yAx(4,-60,80,20,13.4), yAx(5,-2,4,1,12.4,{axisLabel:Object.assign({margin:12.4},lightLbl)})
];

// ---------------- SERIES ----------------
const zeroLine={silent:true,symbol:'none',label:{show:false},lineStyle:{color:ZERO,width:2,type:'solid'},data:[{yAxis:0}]};
const toFlow = arr => arr.map((v,i)=>[flowStart+i*flowStep, v]);
function flowPair(gi,barName,lineName,bars,ma,barColor,extra){
  return [
    {type:'bar',name:barName,xAxisIndex:gi,yAxisIndex:gi,data:toFlow(bars),barWidth:2.8,itemStyle:{color:barColor},z:2,markLine:zeroLine},
    Object.assign({type:'line',name:lineName,xAxisIndex:gi,yAxisIndex:gi,data:ma,symbol:'none',showSymbol:false,lineStyle:{color:NAVY,width:2.8},itemStyle:{color:NAVY},z:10},extra||{})
  ];
}
const circ={color:'rgba(0,0,0,0)',borderColor:RED,borderWidth:2};
const series=[
  {type:'line',name:'Chinese renminbi vs Japanese yen',xAxisIndex:0,yAxisIndex:0,data:cnyJpy,symbol:'none',showSymbol:false,
   lineStyle:{color:NAVY,width:2.8},itemStyle:{color:NAVY},
   markLine:{silent:true,symbol:['none','arrow'],symbolSize:10,label:{show:false},lineStyle:{color:RED,width:2,type:'solid'},
     data:[[{coord:cnyArrow[0]},{coord:cnyArrow[1]}]]}},
  {type:'line',name:"'Magnificent Seven' market cap, as a",xAxisIndex:1,yAxisIndex:1,data:mag7Share,symbol:'none',showSymbol:false,
   lineStyle:{color:NAVY,width:3},itemStyle:{color:NAVY},
   markPoint:{silent:true,symbol:'circle',symbolSize:18,itemStyle:circ,
     data:mag7Marks.map((m,i)=>({coord:[m[0],m[1]],label:{show:true,formatter:m[2],color:RED,fontSize:14,fontFamily:SANS,
       position:['top','bottom','right'][i],distance:[2,3,3][i]}}))}},
  ...flowPair(2,'Gold flows ($bn)','Gold flows 4-week MA ($bn)',goldFlows,goldMA,BAR_A),
  ...flowPair(3,'Corp HY flows ($bn)','Corp HY flows 4-week MA ($bn)',hyFlows,hyMA,BAR_B),
  ...flowPair(4,'US equities flows ($bn)','US equities flows 4-week MA ($bn)',usEqFlows,usEqMA,BAR_A,
     {markPoint:{silent:true,symbol:'path://M0,50 A50,50 0 1,0 100,50 A50,50 0 1,0 0,50 Z',symbolSize:[21,56],
       itemStyle:circ,label:{show:false},data:[{coord:usEqOutflowMark}]}}),
  ...flowPair(5,'Energy flows ($bn)','Energy flows 4-week MA ($bn)',energyFlows,energyMA,BAR_B)
];

// ---------------- LEGENDS ----------------
function leg(name,left,cy,isBar,size,color,fw){
  return {data:[name],left:left,top:cy-7,icon:'rect',itemWidth:30.5,itemHeight:isBar?12:3,padding:0,itemGap:0,selectedMode:false,
    textStyle:{fontSize:size,color:color,fontFamily:SANS,fontWeight:fw||'normal',lineHeight:14,padding:[0,0,0,-3]}};
}
const legends=[
  leg('Chinese renminbi vs Japanese yen',220.8,204,false,11.7,'#555',300),
  leg("'Magnificent Seven' market cap, as a",740.3,224,false,12,'#555',300),
  leg('Gold flows ($bn)',81.1,704,true,13,'#333'),
  leg('Gold flows 4-week MA ($bn)',223.9,704,false,13,'#333'),
  leg('Corp HY flows ($bn)',735.8,705,true,13,'#333'),
  leg('Corp HY flows 4-week MA ($bn)',899.1,705,false,13,'#333'),
  leg('US equities flows ($bn)',99.5,1186,true,13,'#333'),
  leg('US equities flows 4-week MA ($bn)',99.5,1216.7,false,13,'#333'),
  leg('Energy flows ($bn)',756.5,1185,true,12.5,'#555',300),
  leg('Energy flows 4-week MA ($bn)',911.5,1185,false,12.5,'#555',300)
];

const chart=echarts.init(document.getElementById('c'),null,{renderer:'canvas',width:1240,height:1754});
chart.setOption({animation:false,backgroundColor:'#fff',grid:grids,xAxis:xAxes,yAxis:yAxes,legend:legends,series:series,graphic:G});
</script></body></html>
